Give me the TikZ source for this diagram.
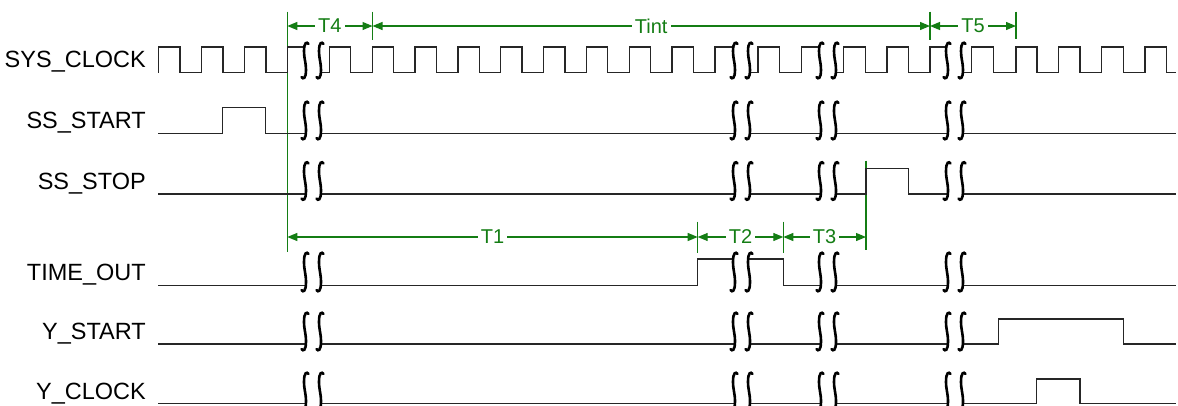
\documentclass[tikz,border=0pt]{standalone}
\usepackage{fontspec}
\setmainfont{Liberation Sans}
\usetikzlibrary{arrows.meta}
\newcommand\siglabfont{\fontsize{23.5}{24}\selectfont}
\newcommand\dimlabfont{\fontsize{20}{20}\selectfont}
\definecolor{dimgreen}{RGB}{20,125,20}
\tikzset{
  sig/.style={line width=1.3pt, black!85, line join=miter},
  brk/.style={line width=2.6pt, black, line cap=round},
  dimln/.style={line width=1.2pt, dimgreen},
  dimarr/.style={dimln, {Triangle[length=10pt,width=8pt]}-{Triangle[length=10pt,width=8pt]}},
  dimlab/.style={fill=white, text=dimgreen, font=\dimlabfont, inner xsep=3pt, inner ysep=1pt},
  siglab/.style={font=\siglabfont, anchor=base east, inner sep=0pt}
}
\newcommand\brkset[2]{%
  \foreach \c in {305,320,734,749,820,835,947,962}{%
    \draw[brk] ({\c+3.5},{#1+2}) .. controls ({\c+2},{#1-0.5}) and ({\c-1},{#1}) .. ({\c-1},{#1+0.25*(#2-#1)})
      .. controls ({\c-1},{#1+0.45*(#2-#1)}) and ({\c+1},{#1+0.55*(#2-#1)}) .. ({\c+1},{#1+0.75*(#2-#1)})
      .. controls ({\c+1},{#2}) and ({\c-2},{#2+0.5}) .. ({\c-3.5},{#2-2});
  }}
\begin{document}
\begin{tikzpicture}[x=1pt,y=-1pt]
\useasboundingbox (0,0) rectangle (1178,405);

% ---------- labels ----------
\node[siglab] (lclk) at (146,67.5) {SYS\_CLOCK};
\node[siglab] (lsst) at (146,128.5) {SS\_START};
\node[siglab] (lssp) at (146,189.5) {SS\_STOP};
\node[siglab] (lto)  at (146,280.5) {TIME\_OUT};
\node[siglab] (lys)  at (146,339.5) {Y\_START};
\node[siglab] (lyc)  at (146,399) {Y\_CLOCK};

% ---------- green dimension marks ----------
\coordinate (a0) at (287.3,26);
\coordinate (a1) at (372.5,26);
\coordinate (a2) at (930,26);
\coordinate (a3) at (1016,26);
\coordinate (b0) at (287.3,237);
\coordinate (b1) at (697.7,237);
\coordinate (b2) at (783.3,237);
\coordinate (b3) at (866,237);

\draw[dimln] (287.3,11.7) -- (287.3,252);
\draw[dimln] (372.5,11.7) -- (372.5,40);
\draw[dimln] (930,11.7) -- (930,40);
\draw[dimln] (1016,11.7) -- (1016,39);
\draw[dimln] (697.7,221.7) -- (697.7,253);
\draw[dimln] (783.3,221.7) -- (783.3,253);
\draw[dimln] (866,160.7) -- (866,250);

\draw[dimarr] (a0) -- node[dimlab] (t4) {T4} (a1);
\draw[dimarr] (a1) -- node[dimlab] (tint) {Tint} (a2);
\draw[dimarr] (a2) -- node[dimlab] (t5) {T5} (a3);
\draw[dimarr] (b0) -- node[dimlab] (t1) {T1} (b1);
\draw[dimarr] (b1) -- node[dimlab] (t2) {T2} (b2);
\draw[dimarr] (b2) -- node[dimlab] (t3) {T3} (b3);

% ---------- SYS_CLOCK ----------
\draw[sig] (158.3,72.5) -- (158.3,47) -- (180,47) -- (180,72.5) -- (201.7,72.5) -- (201.7,47) -- (223,47) -- (223,72.5)
  -- (244.3,72.5) -- (244.3,47) -- (266,47) -- (266,72.5) -- (287.3,72.5) -- (287.3,47) -- (305,47);
\draw[sig] (320,72.5) \foreach \k in {0,...,8}{ -- ({329.3+42.85*\k},72.5) -- ({329.3+42.85*\k},47) -- ({350.73+42.85*\k},47) -- ({350.73+42.85*\k},72.5) }
  -- (715,72.5) -- (715,47) -- (734,47);
\draw[sig] (749,72.5) -- (758,72.5) -- (758,47) -- (779.5,47) -- (779.5,72.5) -- (801.5,72.5) -- (801.5,47) -- (820,47);
\draw[sig] (835,72.5) -- (843.5,72.5) -- (843.5,47) -- (865.5,47) -- (865.5,72.5) -- (887,72.5) -- (887,47) -- (908.5,47)
  -- (908.5,72.5) -- (930,72.5) -- (930,47) -- (947,47);
\draw[sig] (962,72.5) -- (971.5,72.5) -- (971.5,47) -- (993.5,47) -- (993.5,72.5) -- (1016,72.5) -- (1016,47) -- (1037,47)
  -- (1037,72.5) -- (1058.5,72.5) -- (1058.5,47) -- (1080,47) -- (1080,72.5) -- (1101.7,72.5) -- (1101.7,47) -- (1123.3,47)
  -- (1123.3,72.5) -- (1145,72.5) -- (1145,47) -- (1166.7,47) -- (1166.7,72.5) -- (1176,72.5);
\brkset{42}{79}

% ---------- SS_START ----------
\draw[sig] (158.3,133.3) -- (222.7,133.3) -- (222.7,107.7) -- (265.7,107.7) -- (265.7,133.3) -- (305,133.3);
\draw[sig] (320,133.3) -- (734,133.3);
\draw[sig] (749,133.3) -- (820,133.3);
\draw[sig] (835,133.3) -- (947,133.3);
\draw[sig] (962,133.3) -- (1176,133.3);
\brkset{101}{140}

% ---------- SS_STOP ----------
\draw[sig] (158.3,194) -- (305,194);
\draw[sig] (320,194) -- (734,194);
\draw[sig] (749,194) -- (820,194);
\draw[sig] (835,194) -- (866,194) -- (866,168.3) -- (908.3,168.3) -- (908.3,194) -- (947,194);
\draw[sig] (962,194) -- (1176,194);
\brkset{161.5}{200.5}

% ---------- TIME_OUT ----------
\draw[sig] (158.3,285.3) -- (305,285.3);
\draw[sig] (320,285.3) -- (697.7,285.3) -- (697.7,259) -- (734,259);
\draw[sig] (749,259) -- (783.3,259) -- (783.3,285.3) -- (820,285.3);
\draw[sig] (835,285.3) -- (947,285.3);
\draw[sig] (962,285.3) -- (1176,285.3);
\brkset{252}{292}

% ---------- Y_START ----------
\draw[sig] (158.3,344) -- (305,344);
\draw[sig] (320,344) -- (734,344);
\draw[sig] (749,344) -- (820,344);
\draw[sig] (835,344) -- (947,344);
\draw[sig] (962,344) -- (998.3,344) -- (998.3,319) -- (1123.3,319) -- (1123.3,344) -- (1176,344);
\brkset{312}{351}

% ---------- Y_CLOCK ----------
\draw[sig] (158.3,403.5) -- (305,403.5);
\draw[sig] (320,403.5) -- (734,403.5);
\draw[sig] (749,403.5) -- (820,403.5);
\draw[sig] (835,403.5) -- (947,403.5);
\draw[sig] (962,403.5) -- (1036.7,403.5) -- (1036.7,379) -- (1080,379) -- (1080,403.5) -- (1176,403.5);
\brkset{372}{411}
\end{tikzpicture}
\end{document}
